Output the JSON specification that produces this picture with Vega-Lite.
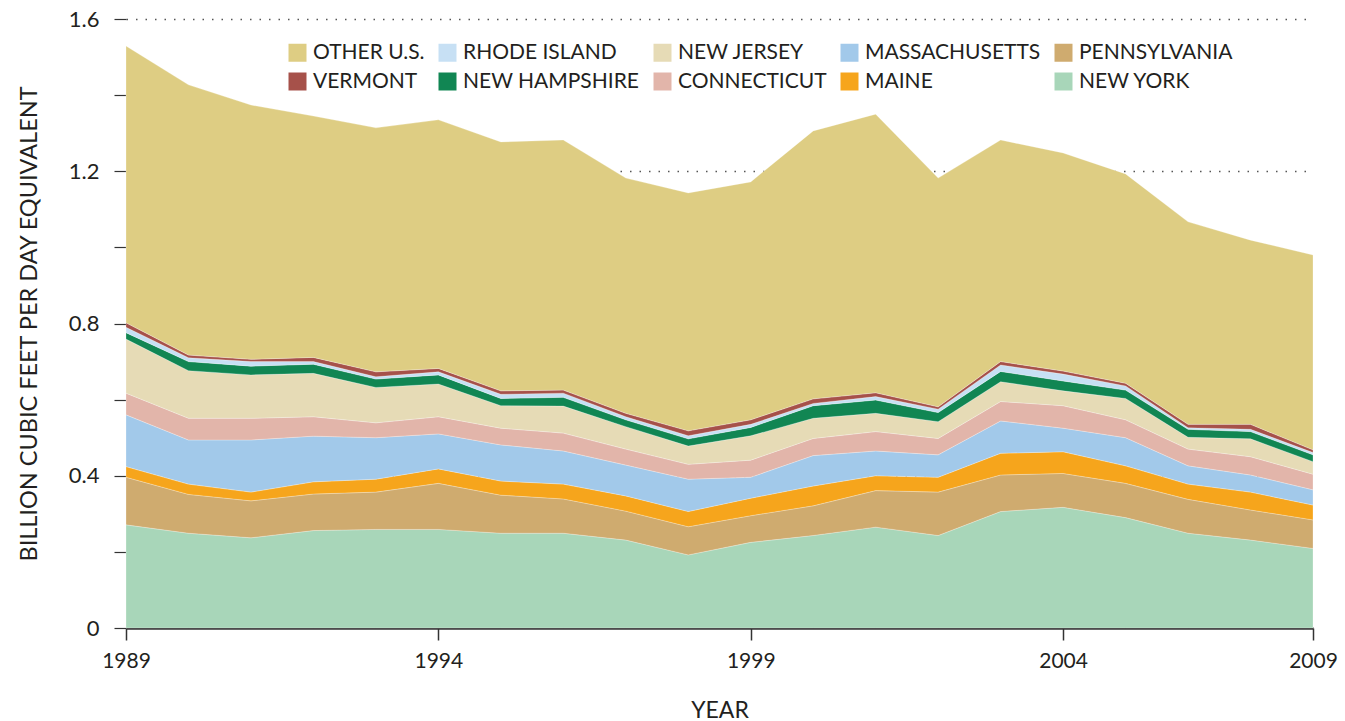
{
  "$schema": "https://vega.github.io/schema/vega-lite/v6.json",
  "autosize": "none",
  "width": 1187,
  "height": 609,
  "padding": {"left": 126, "top": 19, "right": 32, "bottom": 93},
  "background": "#ffffff",
  "config": {
    "view": {"stroke": null},
    "font": "Lato",
    "axis": {"labelFont": "Lato", "titleFont": "Lato", "labelColor": "#231f20", "titleColor": "#231f20", "titleFontWeight": "normal"},
    "legend": {"labelFont": "Lato"}
  },
  "datasets": {
    "gas": [
      {"year": "1989", "NY": 0.271, "PA": 0.125, "ME": 0.028, "MA": 0.136, "CT": 0.057, "NJ": 0.142, "NH": 0.017, "RI": 0.014, "VT": 0.012, "OT": 0.727},
      {"year": "1990", "NY": 0.249, "PA": 0.102, "ME": 0.027, "MA": 0.116, "CT": 0.057, "NJ": 0.125, "NH": 0.024, "RI": 0.010, "VT": 0.007, "OT": 0.710},
      {"year": "1991", "NY": 0.237, "PA": 0.097, "ME": 0.023, "MA": 0.137, "CT": 0.057, "NJ": 0.114, "NH": 0.023, "RI": 0.012, "VT": 0.006, "OT": 0.668},
      {"year": "1992", "NY": 0.256, "PA": 0.096, "ME": 0.032, "MA": 0.120, "CT": 0.051, "NJ": 0.114, "NH": 0.024, "RI": 0.007, "VT": 0.011, "OT": 0.634},
      {"year": "1993", "NY": 0.259, "PA": 0.098, "ME": 0.034, "MA": 0.109, "CT": 0.039, "NJ": 0.093, "NH": 0.022, "RI": 0.006, "VT": 0.013, "OT": 0.641},
      {"year": "1994", "NY": 0.259, "PA": 0.121, "ME": 0.038, "MA": 0.092, "CT": 0.045, "NJ": 0.086, "NH": 0.024, "RI": 0.008, "VT": 0.009, "OT": 0.653},
      {"year": "1995", "NY": 0.249, "PA": 0.100, "ME": 0.037, "MA": 0.095, "CT": 0.044, "NJ": 0.059, "NH": 0.019, "RI": 0.011, "VT": 0.009, "OT": 0.654},
      {"year": "1996", "NY": 0.249, "PA": 0.090, "ME": 0.039, "MA": 0.087, "CT": 0.047, "NJ": 0.071, "NH": 0.023, "RI": 0.011, "VT": 0.008, "OT": 0.657},
      {"year": "1997", "NY": 0.231, "PA": 0.076, "ME": 0.040, "MA": 0.081, "CT": 0.042, "NJ": 0.059, "NH": 0.018, "RI": 0.008, "VT": 0.009, "OT": 0.618},
      {"year": "1998", "NY": 0.192, "PA": 0.074, "ME": 0.040, "MA": 0.085, "CT": 0.039, "NJ": 0.048, "NH": 0.019, "RI": 0.008, "VT": 0.013, "OT": 0.625},
      {"year": "1999", "NY": 0.225, "PA": 0.070, "ME": 0.046, "MA": 0.055, "CT": 0.045, "NJ": 0.064, "NH": 0.022, "RI": 0.008, "VT": 0.012, "OT": 0.625},
      {"year": "2000", "NY": 0.243, "PA": 0.078, "ME": 0.052, "MA": 0.080, "CT": 0.045, "NJ": 0.053, "NH": 0.033, "RI": 0.006, "VT": 0.012, "OT": 0.704},
      {"year": "2001", "NY": 0.265, "PA": 0.096, "ME": 0.039, "MA": 0.065, "CT": 0.051, "NJ": 0.048, "NH": 0.035, "RI": 0.009, "VT": 0.010, "OT": 0.732},
      {"year": "2002", "NY": 0.243, "PA": 0.114, "ME": 0.039, "MA": 0.059, "CT": 0.043, "NJ": 0.044, "NH": 0.024, "RI": 0.009, "VT": 0.006, "OT": 0.601},
      {"year": "2003", "NY": 0.306, "PA": 0.096, "ME": 0.057, "MA": 0.085, "CT": 0.051, "NJ": 0.052, "NH": 0.027, "RI": 0.017, "VT": 0.009, "OT": 0.582},
      {"year": "2004", "NY": 0.317, "PA": 0.089, "ME": 0.057, "MA": 0.062, "CT": 0.059, "NJ": 0.039, "NH": 0.026, "RI": 0.018, "VT": 0.008, "OT": 0.573},
      {"year": "2005", "NY": 0.290, "PA": 0.090, "ME": 0.046, "MA": 0.074, "CT": 0.047, "NJ": 0.056, "NH": 0.022, "RI": 0.011, "VT": 0.007, "OT": 0.550},
      {"year": "2007", "NY": 0.249, "PA": 0.089, "ME": 0.040, "MA": 0.048, "CT": 0.044, "NJ": 0.031, "NH": 0.021, "RI": 0.004, "VT": 0.009, "OT": 0.532},
      {"year": "2008", "NY": 0.231, "PA": 0.079, "ME": 0.047, "MA": 0.045, "CT": 0.048, "NJ": 0.047, "NH": 0.019, "RI": 0.006, "VT": 0.013, "OT": 0.484},
      {"year": "2009", "NY": 0.209, "PA": 0.075, "ME": 0.039, "MA": 0.040, "CT": 0.041, "NJ": 0.033, "NH": 0.018, "RI": 0.006, "VT": 0.007, "OT": 0.512}
    ],
    "states": [
      {"key": "NY", "state": "NEW YORK", "rank": 0},
      {"key": "PA", "state": "PENNSYLVANIA", "rank": 1},
      {"key": "ME", "state": "MAINE", "rank": 2},
      {"key": "MA", "state": "MASSACHUSETTS", "rank": 3},
      {"key": "CT", "state": "CONNECTICUT", "rank": 4},
      {"key": "NJ", "state": "NEW JERSEY", "rank": 5},
      {"key": "NH", "state": "NEW HAMPSHIRE", "rank": 6},
      {"key": "RI", "state": "RHODE ISLAND", "rank": 7},
      {"key": "VT", "state": "VERMONT", "rank": 8},
      {"key": "OT", "state": "OTHER U.S.", "rank": 9}
    ]
  },
  "data": {"name": "gas"},
  "transform": [
    {"fold": ["NY", "PA", "ME", "MA", "CT", "NJ", "NH", "RI", "VT", "OT"], "as": ["key", "value"]},
    {"lookup": "key", "from": {"data": {"name": "states"}, "key": "key", "fields": ["state", "rank"]}}
  ],
  "mark": {"type": "area", "stroke": "#ffffff", "strokeWidth": 0.5, "strokeOpacity": 0.5},
  "encoding": {
    "x": {
      "field": "year", "type": "ordinal",
      "scale": {"type": "point", "padding": 0},
      "axis": {
        "title": "YEAR", "values": ["1989", "1994", "1999", "2004", "2009"],
        "labelAngle": 0, "labelFontSize": 21, "labelPadding": 10,
        "titleFontSize": 23, "titlePadding": 28,
        "domainColor": "#333333", "domainWidth": 2.5,
        "tickColor": "#333333", "tickWidth": 1.5, "tickSize": 12,
        "grid": false
      }
    },
    "y": {
      "field": "value", "type": "quantitative", "stack": "zero",
      "scale": {"domain": [0, 1.6], "nice": false},
      "axis": {
        "title": "BILLION CUBIC FEET PER DAY EQUIVALENT",
        "values": [0, 0.2, 0.4, 0.6, 0.8, 1.0, 1.2, 1.4, 1.6],
        "labelExpr": "round(datum.value*10)%4==0 ? (datum.value==0 ? '0' : format(datum.value, '.1f')) : ''",
        "labelFontSize": 22, "labelPadding": 15,
        "titleFontSize": 23.5, "titlePadding": 27,
        "domain": false,
        "tickColor": "#333333", "tickWidth": 1.2, "tickSize": 12, "tickOffset": 0,
        "grid": true, "gridColor": "#555555", "gridDash": [1.5, 8], "gridWidth": 1.5,
        "gridOpacity": {"condition": {"test": "round(datum.value*10)%4==0 && datum.value > 0", "value": 1}, "value": 0}
      }
    },
    "color": {
      "field": "state", "type": "nominal",
      "scale": {
        "domain": ["OTHER U.S.", "RHODE ISLAND", "NEW JERSEY", "MASSACHUSETTS", "PENNSYLVANIA", "VERMONT", "NEW HAMPSHIRE", "CONNECTICUT", "MAINE", "NEW YORK"],
        "range": ["#DECD83", "#C7E0F4", "#E6DBB6", "#A2C9EA", "#CFAB6F", "#A6514A", "#118653", "#E2B5AA", "#F6A51C", "#A8D6B9"]
      },
      "legend": {
        "title": null, "orient": "none", "legendX": 161, "legendY": 23,
        "columns": 5, "direction": "horizontal", "gridAlign": "each",
        "symbolType": "square", "symbolSize": 324, "symbolStrokeWidth": 0, "symbolOpacity": 1,
        "labelFontSize": 21, "labelColor": "#231f20", "labelOffset": 5,
        "columnPadding": 12, "rowPadding": 7, "padding": 0, "labelLimit": 400
      }
    },
    "order": {"field": "rank", "type": "quantitative", "sort": "ascending"}
  }
}
